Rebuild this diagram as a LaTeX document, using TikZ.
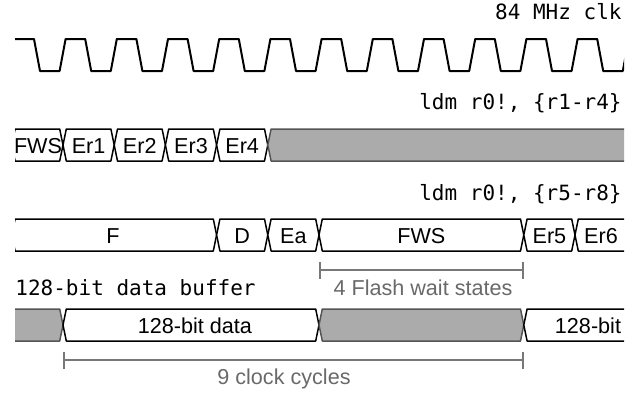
\documentclass[tikz,border=0pt]{standalone}
\usepackage{fontspec}
\setsansfont{Liberation Sans}
\setmonofont{DejaVu Sans Mono}
\usetikzlibrary{arrows.meta}
\definecolor{busgray}{RGB}{171,171,171}
\definecolor{busedge}{RGB}{85,85,85}
\definecolor{spangray}{RGB}{120,120,120}
\definecolor{spantext}{RGB}{105,105,105}

% one bus segment: [style]{top y}{left x}{right x}
\newcommand{\busseg}[4][]{%
  \draw[bus,#1] (#3,#2+16) -- (#3+3.3,#2) -- (#4-3.3,#2) -- (#4,#2+16)
    -- (#4-3.3,#2+32) -- (#3+3.3,#2+32) -- cycle;}

\begin{document}
\begin{tikzpicture}[
  x=0.5pt, y=-0.5pt,
  clk/.style={line width=1pt, black, line join=round},
  bus/.style={draw=black, line width=0.75pt, fill=white, line join=round},
  idle/.style={draw=busedge, fill=busgray},
  buslab/.style={font=\sffamily\fontsize{10.8}{12}\selectfont, anchor=base, inner sep=0pt},
  codelab/.style={font=\ttfamily\fontsize{10.5}{12}\selectfont, anchor=base east, inner sep=0pt},
  span/.style={{Bar[width=8.5pt]}-{Bar[width=8.5pt]}, line width=0.75pt, spangray},
  spanlab/.style={buslab, text=spantext},
]
\useasboundingbox (0,0) rectangle (644,396);

% labels
\node[codelab] (clklab) at (622,19) {84 MHz clk};
\node[codelab] (ldmA) at (622,110) {ldm r0!, \{r1-r4\}};
\node[codelab] (ldmB) at (622,200) {ldm r0!, \{r5-r8\}};
\node[codelab, anchor=base west] (buflab) at (15,295) {128-bit data buffer};

\begin{scope}
\clip (15,0) rectangle (624,396);

% clock
\draw[clk] (0,39) foreach \k in {0,...,11} {
  -- ({34+51.2*\k},39) -- ({40+51.2*\k},71)
  -- ({59.6+51.2*\k},71) -- ({65.6+51.2*\k},39) };

% ldm r0!, {r1-r4}
\busseg{129}{11.8}{63}
\busseg{129}{63}{114.2}
\busseg{129}{114.2}{165.4}
\busseg{129}{165.4}{216.6}
\busseg{129}{216.6}{267.8}
\busseg[idle]{129}{267.8}{700}

% ldm r0!, {r5-r8}
\busseg{219}{11.8}{216.6}
\busseg{219}{216.6}{267.8}
\busseg{219}{267.8}{319}
\busseg{219}{319}{523.8}
\busseg{219}{523.8}{575}
\busseg{219}{575}{700}

% data buffer
\busseg[idle]{309}{-40}{63}
\busseg{309}{63}{319}
\busseg[idle]{309}{319}{523.8}
\busseg{309}{523.8}{700}
\end{scope}

% segment texts
\node[buslab] (fws1) at (38,153) {FWS};
\node[buslab] (er1) at (88.6,153) {Er1};
\node[buslab] (er2) at (139.8,153) {Er2};
\node[buslab] (er3) at (191,153) {Er3};
\node[buslab] (er4) at (242.2,153) {Er4};

\node[buslab] (fetch) at (113,243) {F};
\node[buslab] (dec) at (242.2,243) {D};
\node[buslab] (exa) at (293.4,243) {Ea};
\node[buslab] (fws2) at (421.4,243) {FWS};
\node[buslab] (er5) at (549.4,243) {Er5};
\node[buslab] (er6) at (601,243) {Er6};

\node[buslab] (data1) at (195,333) {128-bit data};
\node[buslab] (data2) at (588,333) {128-bit};

% spans
\coordinate (waitL) at (319,270);
\coordinate (waitR) at (523.8,270);
\draw[span] (waitL) -- (waitR);
\node[spanlab] (waitlab) at (423,295) {4 Flash wait states};

\coordinate (cycL) at (63,360);
\coordinate (cycR) at (523.8,360);
\draw[span] (cycL) -- (cycR);
\node[spanlab] (cyclab) at (284,384) {9 clock cycles};

\end{tikzpicture}
\end{document}
